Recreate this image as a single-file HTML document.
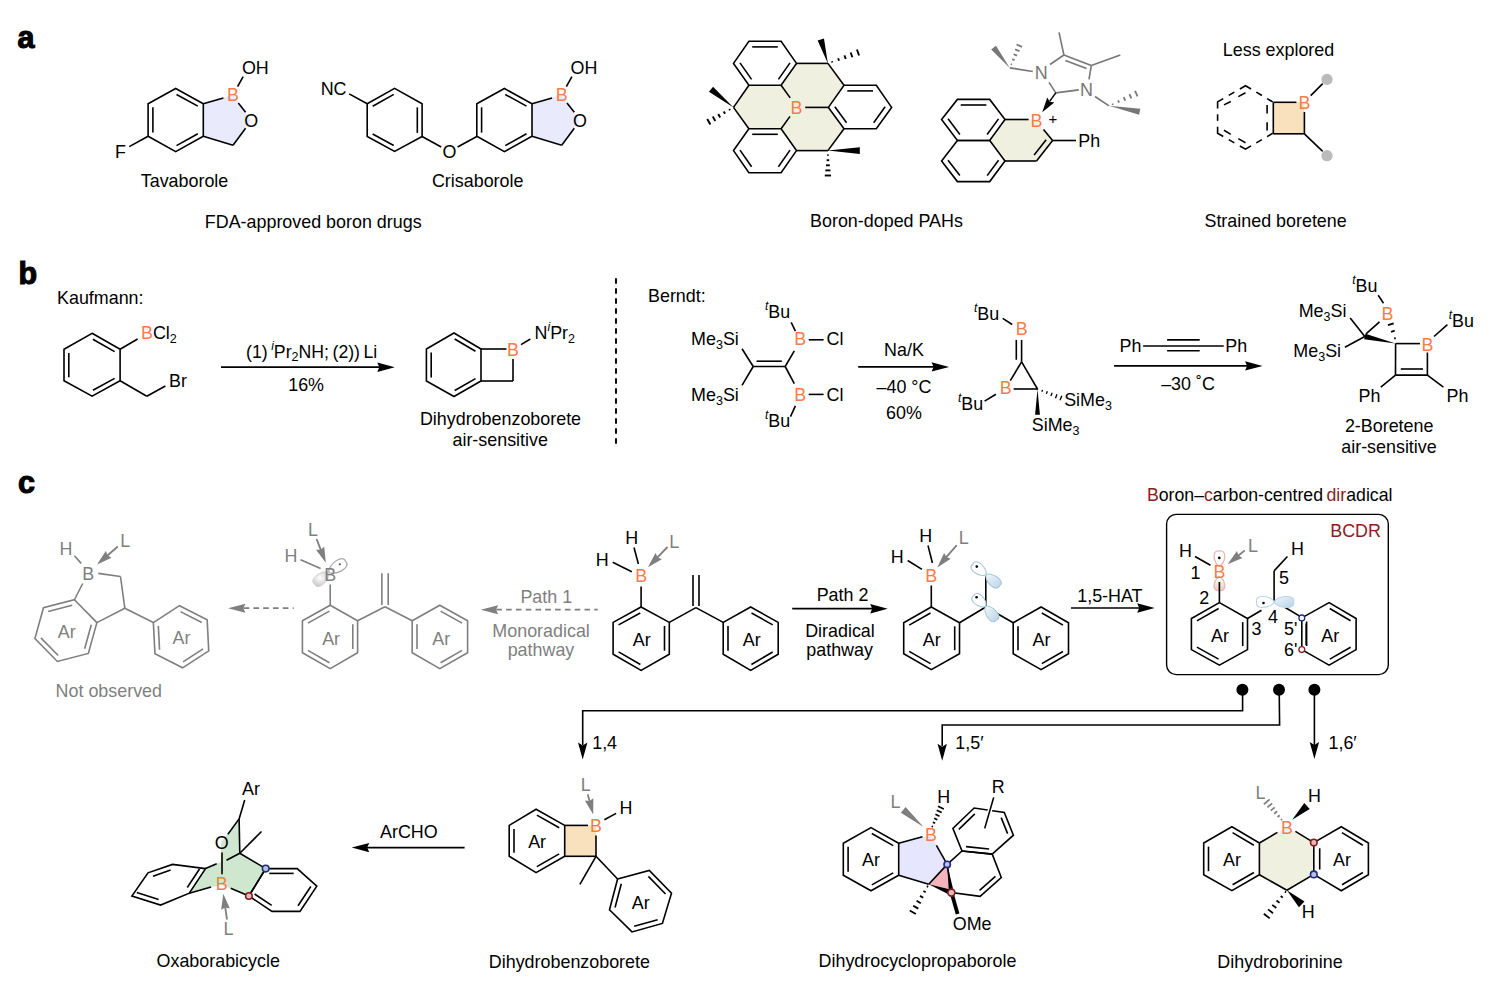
<!DOCTYPE html>
<html><head><meta charset="utf-8"><style>
html,body{margin:0;padding:0;background:#fff;}
svg{display:block;}
text{font-family:"Liberation Sans", sans-serif;}
</style></head><body>
<svg width="1499" height="992" viewBox="0 0 1499 992">
<defs>
<radialGradient id="gl" cx="0.45" cy="0.4" r="0.65"><stop offset="0" stop-color="#ffffff"/><stop offset="1" stop-color="#c4c4c4"/></radialGradient>
<linearGradient id="bl" x1="0" y1="0" x2="1" y2="1"><stop offset="0" stop-color="#f3f8fb"/><stop offset="1" stop-color="#b6d2e4"/></linearGradient>
<linearGradient id="pk1" x1="0" y1="1" x2="0" y2="0"><stop offset="0" stop-color="#ffffff"/><stop offset="1" stop-color="#ffffff"/></linearGradient>
<linearGradient id="pk2" x1="0" y1="0" x2="0" y2="1"><stop offset="0" stop-color="#ffffff"/><stop offset="1" stop-color="#f1c9c6"/></linearGradient>
</defs>
<rect width="1499" height="992" fill="#fff"/>
<text x="17.5" y="48" font-size="30.5" fill="#000" text-anchor="start" font-weight="bold" stroke="#000" stroke-width="1.1">a</text>
<polygon points="203.3,103.7 233,94.6 251,120.7 233,145.2 203.3,136.2" fill="#eaeafd" stroke="none" stroke-linejoin="miter" />
<line x1="203.3" y1="103.7" x2="223.4" y2="97.9" stroke="#000" stroke-width="1.6" stroke-linecap="butt" />
<line x1="238.3" y1="102.9" x2="245.6" y2="112.2" stroke="#000" stroke-width="1.6" stroke-linecap="butt" />
<line x1="245.6" y1="128.3" x2="233" y2="145.2" stroke="#000" stroke-width="1.6" stroke-linecap="butt" />
<line x1="233" y1="145.2" x2="203.3" y2="136.2" stroke="#000" stroke-width="1.6" stroke-linecap="butt" />
<line x1="237.6" y1="86.6" x2="243.2" y2="76.6" stroke="#000" stroke-width="1.6" stroke-linecap="butt" />
<text x="233" y="100.8" font-size="17.9" fill="#fa7c4a" text-anchor="middle" >B</text>
<text x="251.3" y="126.9" font-size="17.9" fill="#000" text-anchor="middle" >O</text>
<text x="255.3" y="73.6" font-size="17.9" fill="#000" text-anchor="middle" >OH</text>
<polygon points="175.7,88.5 203.3,103.7 203.3,136.2 175.7,151.6 148.1,136.2 148.1,103.7" fill="none" stroke="#000" stroke-width="1.6" stroke-linejoin="miter" />
<line x1="176.54" y1="94.44" x2="197.83" y2="106.17" stroke="#000" stroke-width="1.6" stroke-linecap="butt" />
<line x1="197.82" y1="133.76" x2="176.5" y2="145.65" stroke="#000" stroke-width="1.6" stroke-linecap="butt" />
<line x1="152.9" y1="132.6" x2="152.9" y2="107.3" stroke="#000" stroke-width="1.6" stroke-linecap="butt" />
<line x1="148.1" y1="136.2" x2="129.3" y2="146.6" stroke="#000" stroke-width="1.6" stroke-linecap="butt" />
<text x="120.4" y="158.2" font-size="17.9" fill="#000" text-anchor="middle" >F</text>
<text x="184.5" y="186.8" font-size="17.9" fill="#000" text-anchor="middle" >Tavaborole</text>
<polygon points="394.6,88.4 422.1,103.8 422.1,136.5 394.6,151.4 367.2,136.5 367.2,103.8" fill="none" stroke="#000" stroke-width="1.6" stroke-linejoin="miter" />
<line x1="372.69" y1="106.22" x2="393.81" y2="94.35" stroke="#000" stroke-width="1.6" stroke-linecap="butt" />
<line x1="417.3" y1="107.4" x2="417.3" y2="132.9" stroke="#000" stroke-width="1.6" stroke-linecap="butt" />
<line x1="393.73" y1="145.46" x2="372.66" y2="134" stroke="#000" stroke-width="1.6" stroke-linecap="butt" />
<line x1="367.2" y1="103.8" x2="349.2" y2="93.9" stroke="#000" stroke-width="1.6" stroke-linecap="butt" />
<text x="333.6" y="94.5" font-size="17.9" fill="#000" text-anchor="middle" >NC</text>
<line x1="422.1" y1="136.5" x2="441.2" y2="147" stroke="#000" stroke-width="1.6" stroke-linecap="butt" />
<text x="449.4" y="157.7" font-size="17.9" fill="#000" text-anchor="middle" >O</text>
<line x1="457.6" y1="147" x2="476.8" y2="136.5" stroke="#000" stroke-width="1.6" stroke-linecap="butt" />
<polygon points="532,103.7 561.7,94.6 579.7,120.7 561.7,145.2 532,136.2" fill="#eaeafd" stroke="none" stroke-linejoin="miter" />
<line x1="532" y1="103.7" x2="552.1" y2="97.9" stroke="#000" stroke-width="1.6" stroke-linecap="butt" />
<line x1="567" y1="102.9" x2="574.3" y2="112.2" stroke="#000" stroke-width="1.6" stroke-linecap="butt" />
<line x1="574.3" y1="128.3" x2="561.7" y2="145.2" stroke="#000" stroke-width="1.6" stroke-linecap="butt" />
<line x1="561.7" y1="145.2" x2="532" y2="136.2" stroke="#000" stroke-width="1.6" stroke-linecap="butt" />
<line x1="566.3" y1="86.6" x2="571.9" y2="76.6" stroke="#000" stroke-width="1.6" stroke-linecap="butt" />
<text x="561.7" y="100.8" font-size="17.9" fill="#fa7c4a" text-anchor="middle" >B</text>
<text x="580" y="126.9" font-size="17.9" fill="#000" text-anchor="middle" >O</text>
<text x="584" y="73.6" font-size="17.9" fill="#000" text-anchor="middle" >OH</text>
<polygon points="504.4,88.5 532,103.7 532,136.2 504.4,151.6 476.8,136.2 476.8,103.7" fill="none" stroke="#000" stroke-width="1.6" stroke-linejoin="miter" />
<line x1="505.24" y1="94.44" x2="526.53" y2="106.17" stroke="#000" stroke-width="1.6" stroke-linecap="butt" />
<line x1="526.52" y1="133.76" x2="505.2" y2="145.65" stroke="#000" stroke-width="1.6" stroke-linecap="butt" />
<line x1="481.6" y1="132.6" x2="481.6" y2="107.3" stroke="#000" stroke-width="1.6" stroke-linecap="butt" />
<text x="477.7" y="186.7" font-size="17.9" fill="#000" text-anchor="middle" >Crisaborole</text>
<text x="313.2" y="228.1" font-size="17.9" fill="#000" text-anchor="middle" >FDA-approved boron drugs</text>
<polygon points="781.1,85.3 796.5,63.4 827.9,63.4 844,85.3 828.4,107.4 844,128.7 827.9,150.6 796.5,150.6 781.1,128.7 748.9,128.7 733.5,107.4 748.9,85.3" fill="#f0f0e0" stroke="none" stroke-linejoin="miter" />
<polygon points="748.9,41.3 781.1,41.3 796.5,63.4 781.1,85.3 748.9,85.3 733.5,63.4" fill="none" stroke="#000" stroke-width="1.6" stroke-linejoin="miter" />
<line x1="752.2" y1="46.9" x2="777.8" y2="46.9" stroke="#000" stroke-width="1.6" stroke-linecap="butt" />
<line x1="790.02" y1="62.88" x2="778.42" y2="79.38" stroke="#000" stroke-width="1.6" stroke-linecap="butt" />
<line x1="751.58" y1="79.38" x2="739.98" y2="62.88" stroke="#000" stroke-width="1.6" stroke-linecap="butt" />
<polygon points="844,85.3 876.3,85.3 891.6,107.4 876.3,128.7 844,128.7 828.4,107.4" fill="none" stroke="#000" stroke-width="1.6" stroke-linejoin="miter" />
<line x1="847.3" y1="90.9" x2="873" y2="90.9" stroke="#000" stroke-width="1.6" stroke-linecap="butt" />
<line x1="885.13" y1="106.81" x2="873.68" y2="122.75" stroke="#000" stroke-width="1.6" stroke-linecap="butt" />
<line x1="846.57" y1="122.73" x2="834.87" y2="106.75" stroke="#000" stroke-width="1.6" stroke-linecap="butt" />
<polygon points="748.9,128.7 781.1,128.7 796.5,150.6 781.1,172.7 748.9,172.7 733.5,150.6" fill="none" stroke="#000" stroke-width="1.6" stroke-linejoin="miter" />
<line x1="752.2" y1="134.3" x2="777.8" y2="134.3" stroke="#000" stroke-width="1.6" stroke-linecap="butt" />
<line x1="790.02" y1="150.11" x2="778.39" y2="166.79" stroke="#000" stroke-width="1.6" stroke-linecap="butt" />
<line x1="751.61" y1="166.79" x2="739.98" y2="150.11" stroke="#000" stroke-width="1.6" stroke-linecap="butt" />
<line x1="796.5" y1="63.4" x2="827.9" y2="63.4" stroke="#000" stroke-width="1.6" stroke-linecap="butt" />
<line x1="827.9" y1="63.4" x2="844" y2="85.3" stroke="#000" stroke-width="1.6" stroke-linecap="butt" />
<line x1="748.9" y1="85.3" x2="733.5" y2="107.4" stroke="#000" stroke-width="1.6" stroke-linecap="butt" />
<line x1="733.5" y1="107.4" x2="748.9" y2="128.7" stroke="#000" stroke-width="1.6" stroke-linecap="butt" />
<line x1="796.5" y1="150.6" x2="827.9" y2="150.6" stroke="#000" stroke-width="1.6" stroke-linecap="butt" />
<line x1="827.9" y1="150.6" x2="844" y2="128.7" stroke="#000" stroke-width="1.6" stroke-linecap="butt" />
<line x1="781.1" y1="85.3" x2="790.2" y2="97.9" stroke="#000" stroke-width="1.6" stroke-linecap="butt" />
<line x1="781.1" y1="128.7" x2="790" y2="116.4" stroke="#000" stroke-width="1.6" stroke-linecap="butt" />
<line x1="805.2" y1="107.4" x2="828.4" y2="107.4" stroke="#000" stroke-width="1.6" stroke-linecap="butt" />
<text x="796.5" y="113.7" font-size="17.9" fill="#fa7c4a" text-anchor="middle" >B</text>
<polygon points="827.9,63.4 823.96,38.56 817.64,40.44" fill="#000" stroke="none" stroke-linejoin="miter" />
<line x1="832.37" y1="62.53" x2="831.89" y2="61.21" stroke="#000" stroke-width="1.9" stroke-linecap="butt" />
<line x1="839.05" y1="60.76" x2="838.15" y2="58.29" stroke="#000" stroke-width="1.9" stroke-linecap="butt" />
<line x1="845.72" y1="58.99" x2="844.41" y2="55.37" stroke="#000" stroke-width="1.9" stroke-linecap="butt" />
<line x1="852.4" y1="57.23" x2="850.67" y2="52.46" stroke="#000" stroke-width="1.9" stroke-linecap="butt" />
<line x1="859.07" y1="55.46" x2="856.93" y2="49.54" stroke="#000" stroke-width="1.9" stroke-linecap="butt" />
<polygon points="733.5,107.4 713.07,86.73 708.93,91.87" fill="#000" stroke="none" stroke-linejoin="miter" />
<line x1="729.26" y1="109.06" x2="729.96" y2="110.27" stroke="#000" stroke-width="1.9" stroke-linecap="butt" />
<line x1="723.75" y1="111.57" x2="725.07" y2="113.83" stroke="#000" stroke-width="1.9" stroke-linecap="butt" />
<line x1="718.24" y1="114.07" x2="720.18" y2="117.4" stroke="#000" stroke-width="1.9" stroke-linecap="butt" />
<line x1="712.73" y1="116.57" x2="715.28" y2="120.96" stroke="#000" stroke-width="1.9" stroke-linecap="butt" />
<line x1="707.21" y1="119.08" x2="710.39" y2="124.52" stroke="#000" stroke-width="1.9" stroke-linecap="butt" />
<polygon points="827.9,150.6 859.8,153.9 859.8,147.3" fill="#000" stroke="none" stroke-linejoin="miter" />
<line x1="827.2" y1="155.1" x2="828.6" y2="155.1" stroke="#000" stroke-width="1.9" stroke-linecap="butt" />
<line x1="826.59" y1="160.2" x2="829.21" y2="160.2" stroke="#000" stroke-width="1.9" stroke-linecap="butt" />
<line x1="825.98" y1="165.3" x2="829.82" y2="165.3" stroke="#000" stroke-width="1.9" stroke-linecap="butt" />
<line x1="825.36" y1="170.4" x2="830.44" y2="170.4" stroke="#000" stroke-width="1.9" stroke-linecap="butt" />
<line x1="824.75" y1="175.5" x2="831.05" y2="175.5" stroke="#000" stroke-width="1.9" stroke-linecap="butt" />
<text x="886.5" y="226.5" font-size="17.9" fill="#000" text-anchor="middle" >Boron-doped PAHs</text>
<polygon points="1005,119.5 1032,119.5 1036.5,121.1 1052.6,140.5 1036.5,161 1005,161 989.7,140.5" fill="#f0f0e0" stroke="none" stroke-linejoin="miter" />
<polygon points="957.4,99.4 989.7,99.4 1005,119.5 989.7,140.5 957.4,140.5 941.6,119.5" fill="none" stroke="#000" stroke-width="1.6" stroke-linejoin="miter" />
<line x1="960.7" y1="105" x2="986.4" y2="105" stroke="#000" stroke-width="1.6" stroke-linecap="butt" />
<line x1="998.53" y1="118.87" x2="987.12" y2="134.54" stroke="#000" stroke-width="1.6" stroke-linecap="butt" />
<line x1="959.89" y1="134.5" x2="948.06" y2="118.77" stroke="#000" stroke-width="1.6" stroke-linecap="butt" />
<polygon points="989.7,140.5 1005,161 989.7,181.6 957.4,181.6 941.6,161 957.4,140.5" fill="none" stroke="#000" stroke-width="1.6" stroke-linejoin="miter" />
<line x1="998.54" y1="160.31" x2="987.17" y2="175.61" stroke="#000" stroke-width="1.6" stroke-linecap="butt" />
<line x1="959.84" y1="175.57" x2="948.05" y2="160.21" stroke="#000" stroke-width="1.6" stroke-linecap="butt" />
<line x1="1005" y1="119.5" x2="1028.6" y2="119.5" stroke="#000" stroke-width="1.6" stroke-linecap="butt" />
<line x1="1043.5" y1="129.5" x2="1052.6" y2="140.5" stroke="#000" stroke-width="1.6" stroke-linecap="butt" />
<line x1="1052.6" y1="140.5" x2="1036.5" y2="161" stroke="#000" stroke-width="1.6" stroke-linecap="butt" />
<line x1="1046.16" y1="139.64" x2="1034.13" y2="154.95" stroke="#000" stroke-width="1.6" stroke-linecap="butt" />
<line x1="1036.5" y1="161" x2="1005" y2="161" stroke="#000" stroke-width="1.6" stroke-linecap="butt" />
<line x1="1052.6" y1="140.5" x2="1076" y2="140.5" stroke="#000" stroke-width="1.6" stroke-linecap="butt" />
<text x="1036.5" y="127.2" font-size="17.9" fill="#fa7c4a" text-anchor="middle" >B</text>
<text x="1052.9" y="123.5" font-size="15" fill="#000" text-anchor="middle" >+</text>
<text x="1089.2" y="147" font-size="17.9" fill="#000" text-anchor="middle" >Ph</text>
<line x1="1055.8" y1="92.9" x2="1049" y2="82.4" stroke="#777777" stroke-width="1.6" stroke-linecap="butt" />
<line x1="1055.8" y1="92.9" x2="1078.8" y2="89.9" stroke="#777777" stroke-width="1.6" stroke-linecap="butt" />
<line x1="1050" y1="64.5" x2="1063.9" y2="55" stroke="#777777" stroke-width="1.6" stroke-linecap="butt" />
<line x1="1063.9" y1="55" x2="1091.3" y2="65.5" stroke="#777777" stroke-width="1.6" stroke-linecap="butt" />
<line x1="1065.34" y1="60.48" x2="1086.57" y2="68.61" stroke="#777777" stroke-width="1.6" stroke-linecap="butt" />
<line x1="1091.3" y1="65.5" x2="1089" y2="79.3" stroke="#777777" stroke-width="1.6" stroke-linecap="butt" />
<line x1="1063.9" y1="55" x2="1059" y2="32.4" stroke="#777777" stroke-width="1.6" stroke-linecap="butt" />
<line x1="1091.3" y1="65.5" x2="1120.3" y2="55" stroke="#777777" stroke-width="1.6" stroke-linecap="butt" />
<text x="1041.3" y="79.2" font-size="17.9" fill="#777777" text-anchor="middle" >N</text>
<text x="1086.5" y="95.9" font-size="17.9" fill="#777777" text-anchor="middle" >N</text>
<line x1="1032.8" y1="71.5" x2="1009.8" y2="67.9" stroke="#777777" stroke-width="1.6" stroke-linecap="butt" />
<polygon points="1009.8,67.9 996.02,45.67 991.18,49.53" fill="#777777" stroke="none" stroke-linejoin="miter" />
<line x1="1011.97" y1="64.48" x2="1010.78" y2="63.97" stroke="#777777" stroke-width="1.8" stroke-linecap="butt" />
<line x1="1014.49" y1="60.08" x2="1012.22" y2="59.11" stroke="#777777" stroke-width="1.8" stroke-linecap="butt" />
<line x1="1017.01" y1="55.68" x2="1013.66" y2="54.24" stroke="#777777" stroke-width="1.8" stroke-linecap="butt" />
<line x1="1019.54" y1="51.28" x2="1015.1" y2="49.38" stroke="#777777" stroke-width="1.8" stroke-linecap="butt" />
<line x1="1022.06" y1="46.88" x2="1016.54" y2="44.52" stroke="#777777" stroke-width="1.8" stroke-linecap="butt" />
<line x1="1095" y1="96.5" x2="1109" y2="105.8" stroke="#777777" stroke-width="1.6" stroke-linecap="butt" />
<polygon points="1109,105.8 1139.11,114.74 1140.29,108.66" fill="#777777" stroke="none" stroke-linejoin="miter" />
<line x1="1112.92" y1="104.76" x2="1112.39" y2="103.57" stroke="#777777" stroke-width="1.8" stroke-linecap="butt" />
<line x1="1119.07" y1="102.66" x2="1118.06" y2="100.4" stroke="#777777" stroke-width="1.8" stroke-linecap="butt" />
<line x1="1125.22" y1="100.55" x2="1123.73" y2="97.22" stroke="#777777" stroke-width="1.8" stroke-linecap="butt" />
<line x1="1131.37" y1="98.44" x2="1129.4" y2="94.04" stroke="#777777" stroke-width="1.8" stroke-linecap="butt" />
<line x1="1137.52" y1="96.34" x2="1135.08" y2="90.86" stroke="#777777" stroke-width="1.8" stroke-linecap="butt" />
<line x1="1055.8" y1="92.9" x2="1049.6" y2="101.4" stroke="#000" stroke-width="1.5" stroke-linecap="butt" />
<polygon points="1042.2,112.3 1047.29,97.55 1049.66,101.66 1054.33,102.49" fill="#000" stroke="none" stroke-linejoin="miter" />
<text x="1278.5" y="56.1" font-size="17.9" fill="#000" text-anchor="middle" >Less explored</text>
<polygon points="1273.3,102.3 1304.4,102.3 1304.4,133.8 1273.3,133.8" fill="#f9e1be" stroke="none" stroke-linejoin="miter" />
<line x1="1273.3" y1="102.3" x2="1296.4" y2="102.3" stroke="#000" stroke-width="1.6" stroke-linecap="butt" />
<line x1="1304.4" y1="112" x2="1304.4" y2="133.8" stroke="#000" stroke-width="1.6" stroke-linecap="butt" />
<line x1="1304.4" y1="133.8" x2="1273.3" y2="133.8" stroke="#000" stroke-width="1.6" stroke-linecap="butt" />
<line x1="1273.3" y1="102.3" x2="1273.3" y2="133.8" stroke="#000" stroke-width="1.6" stroke-linecap="butt" />
<text x="1304.4" y="108.9" font-size="17.9" fill="#fa7c4a" text-anchor="middle" >B</text>
<line x1="1272.7" y1="101.9" x2="1267.12" y2="98.57" stroke="#000" stroke-width="1.6" stroke-linecap="butt" />
<line x1="1272.7" y1="133.3" x2="1267.09" y2="136.58" stroke="#000" stroke-width="1.6" stroke-linecap="butt" />
<polyline points="1251.08,89.03 1245.5,85.7 1239.88,88.96" fill="none" stroke="#000" stroke-width="1.6" stroke-linejoin="miter" />
<polyline points="1223.22,98.64 1217.6,101.9 1217.6,108.4" fill="none" stroke="#000" stroke-width="1.6" stroke-linejoin="miter" />
<polyline points="1217.6,126.8 1217.6,133.3 1223.25,136.52" fill="none" stroke="#000" stroke-width="1.6" stroke-linejoin="miter" />
<polyline points="1239.85,145.98 1245.5,149.2 1251.11,145.92" fill="none" stroke="#000" stroke-width="1.6" stroke-linejoin="miter" />
<line x1="1261.89" y1="95.46" x2="1256.31" y2="92.14" stroke="#000" stroke-width="1.6" stroke-linecap="butt" />
<line x1="1234.36" y1="92.17" x2="1228.74" y2="95.43" stroke="#000" stroke-width="1.6" stroke-linecap="butt" />
<line x1="1217.6" y1="114.35" x2="1217.6" y2="120.85" stroke="#000" stroke-width="1.6" stroke-linecap="butt" />
<line x1="1228.73" y1="139.64" x2="1234.37" y2="142.86" stroke="#000" stroke-width="1.6" stroke-linecap="butt" />
<line x1="1256.29" y1="142.89" x2="1261.91" y2="139.61" stroke="#000" stroke-width="1.6" stroke-linecap="butt" />
<line x1="1224" y1="104.9" x2="1230.8" y2="101.5" stroke="#000" stroke-width="1.6" stroke-linecap="butt" />
<line x1="1238.3" y1="96.6" x2="1245.5" y2="92.8" stroke="#000" stroke-width="1.6" stroke-linecap="butt" />
<line x1="1267.1" y1="104.9" x2="1267.1" y2="113.6" stroke="#000" stroke-width="1.6" stroke-linecap="butt" />
<line x1="1267.1" y1="122.3" x2="1267.1" y2="130.6" stroke="#000" stroke-width="1.6" stroke-linecap="butt" />
<line x1="1224" y1="130.3" x2="1230.8" y2="134.4" stroke="#000" stroke-width="1.6" stroke-linecap="butt" />
<line x1="1238.3" y1="138.6" x2="1245.5" y2="142.7" stroke="#000" stroke-width="1.6" stroke-linecap="butt" />
<line x1="1310.7" y1="95.6" x2="1322.7" y2="83.6" stroke="#000" stroke-width="1.6" stroke-linecap="butt" />
<line x1="1304.4" y1="133.8" x2="1322.7" y2="151.4" stroke="#000" stroke-width="1.6" stroke-linecap="butt" />
<circle cx="1327" cy="79.4" r="5.6" fill="#bbbbbb" />
<circle cx="1327" cy="155.7" r="5.6" fill="#bbbbbb" />
<text x="1275.6" y="226.5" font-size="17.9" fill="#000" text-anchor="middle" >Strained boretene</text>
<text x="18.5" y="284.2" font-size="30.5" fill="#000" text-anchor="start" font-weight="bold" stroke="#000" stroke-width="1.1">b</text>
<text x="57" y="304.2" font-size="17.9" fill="#000" text-anchor="start" >Kaufmann:</text>
<polygon points="92.1,333.3 120.1,349.3 120.1,380.8 92.1,396.2 64,380.8 64,349.3" fill="none" stroke="#000" stroke-width="1.6" stroke-linejoin="miter" />
<line x1="92.84" y1="339.25" x2="114.59" y2="351.68" stroke="#000" stroke-width="1.6" stroke-linecap="butt" />
<line x1="114.63" y1="378.33" x2="92.94" y2="390.26" stroke="#000" stroke-width="1.6" stroke-linecap="butt" />
<line x1="68.8" y1="377.2" x2="68.8" y2="352.9" stroke="#000" stroke-width="1.6" stroke-linecap="butt" />
<line x1="120.1" y1="349.3" x2="137.6" y2="339" stroke="#000" stroke-width="1.6" stroke-linecap="butt" />
<text x="141" y="339.4" font-size="17.9" fill="#000" text-anchor="start" ><tspan fill="#fa7c4a">B</tspan>Cl<tspan font-size="12.5" baseline-shift="-4">2</tspan></text>
<line x1="120.1" y1="380.8" x2="146.8" y2="396.2" stroke="#000" stroke-width="1.6" stroke-linecap="butt" />
<line x1="146.8" y1="396.2" x2="165.4" y2="386" stroke="#000" stroke-width="1.6" stroke-linecap="butt" />
<text x="169" y="386.6" font-size="17.9" fill="#000" text-anchor="start" >Br</text>
<line x1="221" y1="367.1" x2="379.8" y2="367.19" stroke="#000" stroke-width="1.7" stroke-linecap="butt" />
<polygon points="394.8,367.2 377.3,371.89 379.3,367.19 377.3,362.49" fill="#000" stroke="none" stroke-linejoin="miter" />
<text x="246" y="357.6" font-size="17.7" fill="#000" text-anchor="start" >(1) <tspan font-size="12" baseline-shift="8" font-style="italic">i</tspan>Pr<tspan font-size="12.5" baseline-shift="-3">2</tspan>NH; (2)) Li</text>
<text x="306.1" y="391.4" font-size="17.9" fill="#000" text-anchor="middle" >16%</text>
<polygon points="454,333 481,349 481,381 454,396.5 426.4,381 426.4,349" fill="none" stroke="#000" stroke-width="1.6" stroke-linejoin="miter" />
<line x1="454.65" y1="338.96" x2="475.46" y2="351.29" stroke="#000" stroke-width="1.6" stroke-linecap="butt" />
<line x1="475.49" y1="378.63" x2="454.73" y2="390.54" stroke="#000" stroke-width="1.6" stroke-linecap="butt" />
<line x1="431.2" y1="377.4" x2="431.2" y2="352.6" stroke="#000" stroke-width="1.6" stroke-linecap="butt" />
<line x1="481" y1="349" x2="506.5" y2="349" stroke="#000" stroke-width="1.6" stroke-linecap="butt" />
<line x1="513" y1="359" x2="513" y2="381" stroke="#000" stroke-width="1.6" stroke-linecap="butt" />
<line x1="513" y1="381" x2="481" y2="381" stroke="#000" stroke-width="1.6" stroke-linecap="butt" />
<text x="513" y="356.3" font-size="17.9" fill="#fa7c4a" text-anchor="middle" >B</text>
<line x1="521" y1="344.6" x2="530.4" y2="339" stroke="#000" stroke-width="1.6" stroke-linecap="butt" />
<text x="534.6" y="339.4" font-size="17.9" fill="#000" text-anchor="start" >N<tspan font-size="12" baseline-shift="8" font-style="italic">i</tspan>Pr<tspan font-size="12.5" baseline-shift="-4">2</tspan></text>
<text x="500.5" y="425.1" font-size="17.9" fill="#000" text-anchor="middle" >Dihydrobenzoborete</text>
<text x="500.2" y="446" font-size="17.9" fill="#000" text-anchor="middle" >air-sensitive</text>
<line x1="616" y1="278.2" x2="616" y2="444" stroke="#000" stroke-width="1.9" stroke-linecap="butt" stroke-dasharray="5.6 4.4"/>
<text x="648" y="302.4" font-size="17.9" fill="#000" text-anchor="start" >Berndt:</text>
<line x1="753.2" y1="366.5" x2="785.2" y2="366.5" stroke="#000" stroke-width="1.6" stroke-linecap="butt" />
<line x1="756.6" y1="361.2" x2="781.8" y2="361.2" stroke="#000" stroke-width="1.6" stroke-linecap="butt" />
<line x1="753.2" y1="366.5" x2="742" y2="348.7" stroke="#000" stroke-width="1.6" stroke-linecap="butt" />
<line x1="753.2" y1="366.5" x2="742" y2="385.3" stroke="#000" stroke-width="1.6" stroke-linecap="butt" />
<line x1="785.2" y1="366.5" x2="794.3" y2="350.8" stroke="#000" stroke-width="1.6" stroke-linecap="butt" />
<line x1="785.2" y1="366.5" x2="794.3" y2="383.6" stroke="#000" stroke-width="1.6" stroke-linecap="butt" />
<text x="738.8" y="345.1" font-size="17.9" fill="#000" text-anchor="end" >Me<tspan font-size="12.5" baseline-shift="-4">3</tspan>Si</text>
<text x="738.8" y="400.6" font-size="17.9" fill="#000" text-anchor="end" >Me<tspan font-size="12.5" baseline-shift="-4">3</tspan>Si</text>
<text x="800.1" y="345.1" font-size="17.9" fill="#fa7c4a" text-anchor="middle" >B</text>
<text x="800.1" y="400.6" font-size="17.9" fill="#fa7c4a" text-anchor="middle" >B</text>
<line x1="808.7" y1="339.8" x2="823.6" y2="339.8" stroke="#000" stroke-width="1.6" stroke-linecap="butt" />
<line x1="808.7" y1="394.4" x2="823.6" y2="394.4" stroke="#000" stroke-width="1.6" stroke-linecap="butt" />
<text x="826.5" y="345.1" font-size="17.9" fill="#000" text-anchor="start" >Cl</text>
<text x="826.5" y="400.6" font-size="17.9" fill="#000" text-anchor="start" >Cl</text>
<line x1="795.4" y1="331.2" x2="791.2" y2="322.3" stroke="#000" stroke-width="1.6" stroke-linecap="butt" />
<line x1="795.4" y1="405.8" x2="790.5" y2="416.6" stroke="#000" stroke-width="1.6" stroke-linecap="butt" />
<text x="777.5" y="318.4" font-size="17.9" fill="#000" text-anchor="middle" ><tspan font-size="12" baseline-shift="8" font-style="italic">t</tspan>Bu</text>
<text x="777.5" y="427.3" font-size="17.9" fill="#000" text-anchor="middle" ><tspan font-size="12" baseline-shift="8" font-style="italic">t</tspan>Bu</text>
<line x1="858.2" y1="366.9" x2="934.1" y2="366.9" stroke="#000" stroke-width="1.7" stroke-linecap="butt" />
<polygon points="949.1,366.9 931.6,371.6 933.6,366.9 931.6,362.2" fill="#000" stroke="none" stroke-linejoin="miter" />
<text x="904" y="355.8" font-size="17.9" fill="#000" text-anchor="middle" >Na/K</text>
<text x="904" y="393.2" font-size="17.9" fill="#000" text-anchor="middle" >–40 °C</text>
<text x="904" y="418.8" font-size="17.9" fill="#000" text-anchor="middle" >60%</text>
<text x="1021.6" y="335.3" font-size="17.9" fill="#fa7c4a" text-anchor="middle" >B</text>
<text x="986.5" y="320.2" font-size="17.9" fill="#000" text-anchor="middle" ><tspan font-size="12" baseline-shift="8" font-style="italic">t</tspan>Bu</text>
<line x1="1002.7" y1="318.4" x2="1012.2" y2="324.5" stroke="#000" stroke-width="1.6" stroke-linecap="butt" />
<line x1="1016.3" y1="339.9" x2="1016.3" y2="359.8" stroke="#000" stroke-width="1.6" stroke-linecap="butt" />
<line x1="1021.6" y1="339.9" x2="1021.6" y2="361.8" stroke="#000" stroke-width="1.6" stroke-linecap="butt" />
<line x1="1021.6" y1="361.8" x2="1010.3" y2="380.7" stroke="#000" stroke-width="1.6" stroke-linecap="butt" />
<line x1="1021.6" y1="361.8" x2="1037.5" y2="389" stroke="#000" stroke-width="1.6" stroke-linecap="butt" />
<line x1="1013.6" y1="389" x2="1037.5" y2="389" stroke="#000" stroke-width="1.6" stroke-linecap="butt" />
<text x="1005.7" y="394.3" font-size="17.9" fill="#fa7c4a" text-anchor="middle" >B</text>
<line x1="984.6" y1="401.1" x2="995.9" y2="394.3" stroke="#000" stroke-width="1.6" stroke-linecap="butt" />
<text x="970.5" y="410.2" font-size="17.9" fill="#000" text-anchor="middle" ><tspan font-size="12" baseline-shift="8" font-style="italic">t</tspan>Bu</text>
<line x1="1037.28" y1="389.56" x2="1037.72" y2="388.44" stroke="#000" stroke-width="1.3" stroke-linecap="butt" />
<line x1="1041.83" y1="391.71" x2="1042.53" y2="389.89" stroke="#000" stroke-width="1.3" stroke-linecap="butt" />
<line x1="1046.37" y1="393.87" x2="1047.35" y2="391.33" stroke="#000" stroke-width="1.3" stroke-linecap="butt" />
<line x1="1050.92" y1="396.02" x2="1052.16" y2="392.78" stroke="#000" stroke-width="1.3" stroke-linecap="butt" />
<line x1="1055.46" y1="398.18" x2="1056.98" y2="394.22" stroke="#000" stroke-width="1.3" stroke-linecap="butt" />
<line x1="1060" y1="400.33" x2="1061.8" y2="395.67" stroke="#000" stroke-width="1.3" stroke-linecap="butt" />
<text x="1064.2" y="405.6" font-size="17.9" fill="#000" text-anchor="start" >SiMe<tspan font-size="12.5" baseline-shift="-4">3</tspan></text>
<polygon points="1037.5,389 1035.1,414.7 1039.9,414.7" fill="#000" stroke="none" stroke-linejoin="miter" />
<text x="1031.8" y="431.3" font-size="17.9" fill="#000" text-anchor="start" >SiMe<tspan font-size="12.5" baseline-shift="-4">3</tspan></text>
<text x="1130.5" y="351.7" font-size="17.9" fill="#000" text-anchor="middle" >Ph</text>
<line x1="1143.1" y1="346" x2="1223.7" y2="346" stroke="#000" stroke-width="1.6" stroke-linecap="butt" />
<line x1="1167.1" y1="339.9" x2="1199.7" y2="339.9" stroke="#000" stroke-width="1.6" stroke-linecap="butt" />
<line x1="1167.1" y1="350.8" x2="1199.7" y2="350.8" stroke="#000" stroke-width="1.6" stroke-linecap="butt" />
<text x="1236.3" y="351.7" font-size="17.9" fill="#000" text-anchor="middle" >Ph</text>
<line x1="1114.1" y1="365.9" x2="1247.6" y2="365.9" stroke="#000" stroke-width="1.7" stroke-linecap="butt" />
<polygon points="1262.6,365.9 1245.1,370.6 1247.1,365.9 1245.1,361.2" fill="#000" stroke="none" stroke-linejoin="miter" />
<text x="1188" y="389.6" font-size="17.9" fill="#000" text-anchor="middle" >–30 ˚C</text>
<line x1="1395.6" y1="343.6" x2="1420" y2="343.6" stroke="#000" stroke-width="1.6" stroke-linecap="butt" />
<line x1="1427.4" y1="352.5" x2="1427.4" y2="375.1" stroke="#000" stroke-width="1.6" stroke-linecap="butt" />
<line x1="1427.4" y1="375.1" x2="1395.5" y2="375.1" stroke="#000" stroke-width="1.6" stroke-linecap="butt" />
<line x1="1395.5" y1="375.1" x2="1395.6" y2="343.6" stroke="#000" stroke-width="1.6" stroke-linecap="butt" />
<line x1="1400.8" y1="369" x2="1423" y2="369" stroke="#000" stroke-width="1.6" stroke-linecap="butt" />
<text x="1427.4" y="350.6" font-size="17.9" fill="#fa7c4a" text-anchor="middle" >B</text>
<line x1="1395.5" y1="375.1" x2="1380.8" y2="387.1" stroke="#000" stroke-width="1.6" stroke-linecap="butt" />
<line x1="1427.4" y1="375.1" x2="1443.4" y2="387.1" stroke="#000" stroke-width="1.6" stroke-linecap="butt" />
<text x="1369.5" y="401.8" font-size="17.9" fill="#000" text-anchor="middle" >Ph</text>
<text x="1457.5" y="401.8" font-size="17.9" fill="#000" text-anchor="middle" >Ph</text>
<line x1="1434" y1="336.5" x2="1447.4" y2="324.6" stroke="#000" stroke-width="1.6" stroke-linecap="butt" />
<text x="1461.3" y="327.2" font-size="17.9" fill="#000" text-anchor="middle" ><tspan font-size="12" baseline-shift="8" font-style="italic">t</tspan>Bu</text>
<polygon points="1395.6,343.6 1365.45,333.67 1364.15,339.33" fill="#000" stroke="none" stroke-linejoin="miter" />
<line x1="1395.77" y1="338.07" x2="1394.23" y2="338.53" stroke="#000" stroke-width="1.9" stroke-linecap="butt" />
<line x1="1394.72" y1="330.71" x2="1391.08" y2="331.79" stroke="#000" stroke-width="1.9" stroke-linecap="butt" />
<line x1="1393.68" y1="323.34" x2="1387.92" y2="325.06" stroke="#000" stroke-width="1.9" stroke-linecap="butt" />
<line x1="1366" y1="333.9" x2="1379.5" y2="321.9" stroke="#000" stroke-width="1.6" stroke-linecap="butt" />
<text x="1387.5" y="320.2" font-size="17.9" fill="#fa7c4a" text-anchor="middle" >B</text>
<line x1="1383.5" y1="303.3" x2="1378.2" y2="295.3" stroke="#000" stroke-width="1.6" stroke-linecap="butt" />
<text x="1364.8" y="292.2" font-size="17.9" fill="#000" text-anchor="middle" ><tspan font-size="12" baseline-shift="8" font-style="italic">t</tspan>Bu</text>
<text x="1346.4" y="317.4" font-size="17.9" fill="#000" text-anchor="end" >Me<tspan font-size="12.5" baseline-shift="-4">3</tspan>Si</text>
<line x1="1350.2" y1="317.9" x2="1364.8" y2="336.5" stroke="#000" stroke-width="1.6" stroke-linecap="butt" />
<text x="1341.1" y="356.5" font-size="17.9" fill="#000" text-anchor="end" >Me<tspan font-size="12.5" baseline-shift="-4">3</tspan>Si</text>
<line x1="1344.9" y1="347.2" x2="1364.8" y2="336.5" stroke="#000" stroke-width="1.6" stroke-linecap="butt" />
<text x="1389.2" y="432.4" font-size="17.9" fill="#000" text-anchor="middle" >2-Boretene</text>
<text x="1389" y="453.1" font-size="17.9" fill="#000" text-anchor="middle" >air-sensitive</text>
<text x="18" y="492.6" font-size="30.5" fill="#000" text-anchor="start" font-weight="bold" stroke="#000" stroke-width="1.1">c</text>
<polygon points="74.45,599.76 96.88,622.59 88.33,653.42 57.35,661.44 34.92,638.61 43.47,607.78" fill="none" stroke="#7f7f7f" stroke-width="1.6" stroke-linejoin="miter" />
<line x1="91.29" y1="624.77" x2="84.67" y2="648.67" stroke="#7f7f7f" stroke-width="1.6" stroke-linecap="butt" />
<line x1="58.25" y1="655.5" x2="40.87" y2="637.82" stroke="#7f7f7f" stroke-width="1.6" stroke-linecap="butt" />
<line x1="48.16" y1="611.52" x2="72.17" y2="605.31" stroke="#7f7f7f" stroke-width="1.6" stroke-linecap="butt" />
<polygon points="179.48,605.69 207.16,619.86 208.74,650.92 182.62,667.81 154.94,653.64 153.36,622.58" fill="none" stroke="#7f7f7f" stroke-width="1.6" stroke-linejoin="miter" />
<line x1="180.49" y1="611.6" x2="201.77" y2="622.49" stroke="#7f7f7f" stroke-width="1.6" stroke-linecap="butt" />
<line x1="203.11" y1="648.84" x2="183.04" y2="661.82" stroke="#7f7f7f" stroke-width="1.6" stroke-linecap="butt" />
<line x1="159.55" y1="649.8" x2="158.34" y2="625.94" stroke="#7f7f7f" stroke-width="1.6" stroke-linecap="butt" />
<text x="88.2" y="579.7" font-size="17.9" fill="#7f7f7f" text-anchor="middle" >B</text>
<text x="66" y="554.5" font-size="17.9" fill="#7f7f7f" text-anchor="middle" >H</text>
<text x="125.3" y="547" font-size="17.9" fill="#7f7f7f" text-anchor="middle" >L</text>
<line x1="74.4" y1="555.8" x2="81.2" y2="563.4" stroke="#7f7f7f" stroke-width="1.6" stroke-linecap="butt" />
<line x1="117.2" y1="547" x2="107.18" y2="555.73" stroke="#7f7f7f" stroke-width="1.8" stroke-linecap="round" />
<polygon points="97,564.6 105.8,551.1 107.56,555.4 111.58,557.74" fill="#7f7f7f" stroke="none" stroke-linejoin="miter" />
<line x1="82.7" y1="583.5" x2="74.45" y2="599.76" stroke="#7f7f7f" stroke-width="1.6" stroke-linecap="butt" />
<line x1="98.3" y1="573.4" x2="120.5" y2="576.5" stroke="#7f7f7f" stroke-width="1.6" stroke-linecap="butt" />
<line x1="120.5" y1="576.5" x2="124.8" y2="608.2" stroke="#7f7f7f" stroke-width="1.6" stroke-linecap="butt" />
<line x1="124.8" y1="608.2" x2="96.88" y2="622.59" stroke="#7f7f7f" stroke-width="1.6" stroke-linecap="butt" />
<line x1="124.8" y1="608.2" x2="153.36" y2="622.58" stroke="#7f7f7f" stroke-width="1.6" stroke-linecap="butt" />
<text x="66.8" y="637.7" font-size="17.9" fill="#7f7f7f" text-anchor="middle" >Ar</text>
<text x="181.5" y="644" font-size="17.9" fill="#7f7f7f" text-anchor="middle" >Ar</text>
<text x="108.8" y="697" font-size="17.9" fill="#7f7f7f" text-anchor="middle" >Not observed</text>
<line x1="243.6" y1="608.2" x2="293.7" y2="608.2" stroke="#7f7f7f" stroke-width="1.7" stroke-linecap="butt" stroke-dasharray="5.6 4.2"/>
<polygon points="228.1,608.2 245.4,603.7 243.4,608.2 245.4,612.7" fill="#7f7f7f" stroke="none" stroke-linejoin="miter" />
<polygon points="330.2,605.2 357.6,620.7 357.6,652.7 330.2,668.7 302.4,652.7 302.4,620.7" fill="none" stroke="#7f7f7f" stroke-width="1.6" stroke-linejoin="miter" />
<line x1="307.88" y1="623.14" x2="329.39" y2="611.15" stroke="#7f7f7f" stroke-width="1.6" stroke-linecap="butt" />
<line x1="352.8" y1="624.3" x2="352.8" y2="649.1" stroke="#7f7f7f" stroke-width="1.6" stroke-linecap="butt" />
<line x1="329.47" y1="662.74" x2="307.91" y2="650.34" stroke="#7f7f7f" stroke-width="1.6" stroke-linecap="butt" />
<polygon points="439.8,605.2 467.6,620.7 467.6,652.7 439.8,668.7 412.2,652.7 412.2,620.7" fill="none" stroke="#7f7f7f" stroke-width="1.6" stroke-linejoin="miter" />
<line x1="440.61" y1="611.15" x2="462.12" y2="623.14" stroke="#7f7f7f" stroke-width="1.6" stroke-linecap="butt" />
<line x1="462.09" y1="650.34" x2="440.53" y2="662.74" stroke="#7f7f7f" stroke-width="1.6" stroke-linecap="butt" />
<line x1="417" y1="649.1" x2="417" y2="624.3" stroke="#7f7f7f" stroke-width="1.6" stroke-linecap="butt" />
<line x1="330.2" y1="584.5" x2="330.2" y2="605.2" stroke="#7f7f7f" stroke-width="1.6" stroke-linecap="butt" />
<path d="M328.8,572.3 C334.24,576.28 352.35,567.44 345.57,561.41 C342.82,552.76 327.38,565.71 328.8,572.3Z" fill="#ffffff" stroke="#a9a9a9" stroke-width="1.2"/>
<path d="M328.8,572.3 C323.17,569.04 307.46,579.11 314.63,584.19 C318.39,592.13 331.03,578.42 328.8,572.3Z" fill="url(#gl)" stroke="#cfcfcf" stroke-width="0.9"/>
<text x="330.2" y="580.5" font-size="17.9" fill="#7f7f7f" text-anchor="middle" >B</text>
<circle cx="339.8" cy="564.3" r="1.1" fill="#555" />
<text x="290.9" y="562.3" font-size="17.9" fill="#7f7f7f" text-anchor="middle" >H</text>
<line x1="300.5" y1="559.8" x2="320.6" y2="568.4" stroke="#7f7f7f" stroke-width="1.6" stroke-linecap="butt" />
<text x="312.9" y="536.4" font-size="17.9" fill="#7f7f7f" text-anchor="middle" >L</text>
<line x1="316.8" y1="539.7" x2="320.88" y2="550.13" stroke="#7f7f7f" stroke-width="1.8" stroke-linecap="round" />
<polygon points="325.8,562.7 316.05,549.87 320.7,549.66 324.25,546.66" fill="#7f7f7f" stroke="none" stroke-linejoin="miter" />
<line x1="357.6" y1="620.7" x2="385" y2="606.8" stroke="#7f7f7f" stroke-width="1.6" stroke-linecap="butt" />
<line x1="385" y1="606.8" x2="412.2" y2="620.7" stroke="#7f7f7f" stroke-width="1.6" stroke-linecap="butt" />
<line x1="381.9" y1="573.2" x2="381.9" y2="605" stroke="#7f7f7f" stroke-width="1.6" stroke-linecap="butt" />
<line x1="388.2" y1="573.2" x2="388.2" y2="605" stroke="#7f7f7f" stroke-width="1.6" stroke-linecap="butt" />
<text x="331.1" y="644.7" font-size="17.9" fill="#7f7f7f" text-anchor="middle" >Ar</text>
<text x="441.3" y="644.7" font-size="17.9" fill="#7f7f7f" text-anchor="middle" >Ar</text>
<line x1="496.3" y1="609.7" x2="597.7" y2="609.7" stroke="#7f7f7f" stroke-width="1.7" stroke-linecap="butt" stroke-dasharray="5.6 4.2"/>
<polygon points="480.8,609.7 498.1,605.2 496.1,609.7 498.1,614.2" fill="#7f7f7f" stroke="none" stroke-linejoin="miter" />
<text x="546.3" y="602.6" font-size="17.9" fill="#7f7f7f" text-anchor="middle" >Path 1</text>
<text x="541.1" y="637.3" font-size="17.9" fill="#7f7f7f" text-anchor="middle" >Monoradical</text>
<text x="541" y="656.2" font-size="17.9" fill="#7f7f7f" text-anchor="middle" >pathway</text>
<polygon points="641.1,607 669.3,622.4 669.3,654.3 641.1,670.4 613.1,654.3 613.1,622.4" fill="none" stroke="#000" stroke-width="1.6" stroke-linejoin="miter" />
<line x1="618.57" y1="624.87" x2="640.26" y2="612.94" stroke="#000" stroke-width="1.6" stroke-linecap="butt" />
<line x1="664.5" y1="626" x2="664.5" y2="650.7" stroke="#000" stroke-width="1.6" stroke-linecap="butt" />
<line x1="640.37" y1="664.44" x2="618.61" y2="651.93" stroke="#000" stroke-width="1.6" stroke-linecap="butt" />
<polygon points="750.7,607 778.2,622.4 778.2,654.3 750.7,670.4 723.2,654.3 723.2,622.4" fill="none" stroke="#000" stroke-width="1.6" stroke-linejoin="miter" />
<line x1="751.5" y1="612.95" x2="772.71" y2="624.83" stroke="#000" stroke-width="1.6" stroke-linecap="butt" />
<line x1="772.67" y1="651.98" x2="751.38" y2="664.44" stroke="#000" stroke-width="1.6" stroke-linecap="butt" />
<line x1="728" y1="650.7" x2="728" y2="626" stroke="#000" stroke-width="1.6" stroke-linecap="butt" />
<text x="641.1" y="582.4" font-size="17.9" fill="#fa7c4a" text-anchor="middle" >B</text>
<line x1="641.1" y1="586.5" x2="641.1" y2="607" stroke="#000" stroke-width="1.6" stroke-linecap="butt" />
<text x="631.8" y="543.5" font-size="17.9" fill="#000" text-anchor="middle" >H</text>
<line x1="634" y1="547.5" x2="638.4" y2="564" stroke="#000" stroke-width="1.6" stroke-linecap="butt" />
<text x="602.1" y="565.5" font-size="17.9" fill="#000" text-anchor="middle" >H</text>
<line x1="612.7" y1="562.3" x2="631.8" y2="571.7" stroke="#000" stroke-width="1.6" stroke-linecap="butt" />
<text x="674.3" y="548.3" font-size="17.9" fill="#7f7f7f" text-anchor="middle" >L</text>
<line x1="667" y1="547.5" x2="657.27" y2="557.58" stroke="#7f7f7f" stroke-width="1.8" stroke-linecap="round" />
<polygon points="647.9,567.3 655.49,553.09 657.62,557.22 661.83,559.2" fill="#7f7f7f" stroke="none" stroke-linejoin="miter" />
<line x1="669.3" y1="622.4" x2="695.9" y2="607.6" stroke="#000" stroke-width="1.6" stroke-linecap="butt" />
<line x1="695.9" y1="607.6" x2="723.2" y2="622.4" stroke="#000" stroke-width="1.6" stroke-linecap="butt" />
<line x1="693" y1="575" x2="693" y2="606" stroke="#000" stroke-width="1.6" stroke-linecap="butt" />
<line x1="699" y1="575" x2="699" y2="606" stroke="#000" stroke-width="1.6" stroke-linecap="butt" />
<text x="641.7" y="646.3" font-size="17.9" fill="#000" text-anchor="middle" >Ar</text>
<text x="751.8" y="646.3" font-size="17.9" fill="#000" text-anchor="middle" >Ar</text>
<line x1="792.2" y1="608.7" x2="872.7" y2="608.7" stroke="#000" stroke-width="1.7" stroke-linecap="butt" />
<polygon points="887.7,608.7 870.2,613.4 872.2,608.7 870.2,604" fill="#000" stroke="none" stroke-linejoin="miter" />
<text x="842.5" y="600.6" font-size="17.9" fill="#000" text-anchor="middle" >Path 2</text>
<text x="840" y="636.6" font-size="17.9" fill="#000" text-anchor="middle" >Diradical</text>
<text x="839.6" y="656.4" font-size="17.9" fill="#000" text-anchor="middle" >pathway</text>
<polygon points="931.3,607 959.5,622.7 959.5,653.8 931.3,669.6 903.7,653.8 903.7,622.7" fill="none" stroke="#000" stroke-width="1.6" stroke-linejoin="miter" />
<line x1="909.2" y1="625.09" x2="930.54" y2="612.95" stroke="#000" stroke-width="1.6" stroke-linecap="butt" />
<line x1="954.7" y1="626.3" x2="954.7" y2="650.2" stroke="#000" stroke-width="1.6" stroke-linecap="butt" />
<line x1="930.56" y1="663.65" x2="909.21" y2="651.42" stroke="#000" stroke-width="1.6" stroke-linecap="butt" />
<polygon points="1041.1,607 1068.5,622.7 1068.5,653.8 1041.1,669.6 1013.2,653.8 1013.2,622.7" fill="none" stroke="#000" stroke-width="1.6" stroke-linejoin="miter" />
<line x1="1041.84" y1="612.95" x2="1062.99" y2="625.07" stroke="#000" stroke-width="1.6" stroke-linecap="butt" />
<line x1="1062.98" y1="651.44" x2="1041.82" y2="663.64" stroke="#000" stroke-width="1.6" stroke-linecap="butt" />
<line x1="1018" y1="650.2" x2="1018" y2="626.3" stroke="#000" stroke-width="1.6" stroke-linecap="butt" />
<text x="931.3" y="581.6" font-size="17.9" fill="#fa7c4a" text-anchor="middle" >B</text>
<line x1="931.3" y1="585.5" x2="931.3" y2="607" stroke="#000" stroke-width="1.6" stroke-linecap="butt" />
<text x="925.8" y="541.5" font-size="17.9" fill="#000" text-anchor="middle" >H</text>
<line x1="928" y1="545.5" x2="932.4" y2="563" stroke="#000" stroke-width="1.6" stroke-linecap="butt" />
<text x="897.1" y="563" font-size="17.9" fill="#000" text-anchor="middle" >H</text>
<line x1="907.7" y1="560.5" x2="922" y2="569.4" stroke="#000" stroke-width="1.6" stroke-linecap="butt" />
<text x="963.8" y="544" font-size="17.9" fill="#7f7f7f" text-anchor="middle" >L</text>
<line x1="956.3" y1="545.6" x2="946.12" y2="557.38" stroke="#7f7f7f" stroke-width="1.8" stroke-linecap="round" />
<polygon points="937.3,567.6 944.1,552.99 946.45,557 950.76,558.75" fill="#7f7f7f" stroke="none" stroke-linejoin="miter" />
<line x1="959.5" y1="622.7" x2="985.8" y2="607" stroke="#000" stroke-width="1.6" stroke-linecap="butt" />
<line x1="985.8" y1="607" x2="1013.2" y2="622.7" stroke="#000" stroke-width="1.6" stroke-linecap="butt" />
<line x1="985.8" y1="576" x2="985.8" y2="607" stroke="#000" stroke-width="1.6" stroke-linecap="butt" />
<path d="M986.1,574.7 C988.15,568.76 976.18,556.48 972.7,564.23 C966.02,569.48 980.84,578.12 986.1,574.7Z" fill="#fff" stroke="#a9c9d9" stroke-width="1.1"/>
<path d="M986.1,574.7 C983.89,580.6 995.81,593.62 999.51,585.95 C1006.42,580.98 991.53,571.5 986.1,574.7Z" fill="url(#bl)" stroke="#a9c9d9" stroke-width="1.1"/>
<path d="M985.6,606.3 C988.15,600.6 977.8,588.18 973.71,595.59 C966.76,600.44 980.2,609.43 985.6,606.3Z" fill="#fff" stroke="#a9c9d9" stroke-width="1.1"/>
<path d="M985.6,606.3 C982.21,611.61 991.17,626.82 996.37,620.09 C1004.17,616.67 991.57,604.3 985.6,606.3Z" fill="url(#bl)" stroke="#a9c9d9" stroke-width="1.1"/>
<circle cx="976.8" cy="566.6" r="1.3" fill="#000" />
<circle cx="976.6" cy="597.3" r="1.3" fill="#000" />
<text x="931.7" y="646" font-size="17.9" fill="#000" text-anchor="middle" >Ar</text>
<text x="1041.5" y="646" font-size="17.9" fill="#000" text-anchor="middle" >Ar</text>
<line x1="1071" y1="608" x2="1139.7" y2="608" stroke="#000" stroke-width="1.7" stroke-linecap="butt" />
<polygon points="1154.7,608 1137.2,612.7 1139.2,608 1137.2,603.3" fill="#000" stroke="none" stroke-linejoin="miter" />
<text x="1109.9" y="601.6" font-size="17.9" fill="#000" text-anchor="middle" >1,5-HAT</text>
<text x="1269.7" y="501.1" font-size="17.7" fill="#000" text-anchor="middle" ><tspan fill="#8b1c22">B</tspan>oron–<tspan fill="#8b1c22">c</tspan>arbon-centred <tspan fill="#8b1c22">dir</tspan>adical</text>
<rect x="1166.6" y="514.4" width="221.7" height="160.2" rx="9.5" fill="none" stroke="#000" stroke-width="1.4"/>
<text x="1355.6" y="536.5" font-size="17.9" fill="#8b1c22" text-anchor="middle" >BCDR</text>
<polygon points="1219.4,602.6 1247.5,618.5 1247.5,649.6 1219.4,665.1 1191.4,649.6 1191.4,618.5" fill="none" stroke="#000" stroke-width="1.6" stroke-linejoin="miter" />
<line x1="1196.9" y1="620.9" x2="1218.64" y2="608.55" stroke="#000" stroke-width="1.6" stroke-linecap="butt" />
<line x1="1242.7" y1="622.1" x2="1242.7" y2="646" stroke="#000" stroke-width="1.6" stroke-linecap="butt" />
<line x1="1218.58" y1="659.16" x2="1196.87" y2="647.14" stroke="#000" stroke-width="1.6" stroke-linecap="butt" />
<polygon points="1329.1,602.6 1356.1,618.5 1356.1,649.6 1329.1,665.1 1301.8,649.6 1301.8,617.9" fill="none" stroke="#000" stroke-width="1.6" stroke-linejoin="miter" />
<line x1="1329.77" y1="608.56" x2="1350.56" y2="620.81" stroke="#000" stroke-width="1.6" stroke-linecap="butt" />
<line x1="1350.59" y1="647.23" x2="1329.83" y2="659.14" stroke="#000" stroke-width="1.6" stroke-linecap="butt" />
<line x1="1306.6" y1="646" x2="1306.6" y2="621.5" stroke="#000" stroke-width="1.6" stroke-linecap="butt" />
<path d="M1219.4,566 C1225.34,564.2 1227.65,549.2 1219.4,551 C1211.15,549.2 1213.46,564.2 1219.4,566Z" fill="url(#pk1)" stroke="#e9b7b0" stroke-width="1.3"/>
<path d="M1219.4,577 C1213.46,578.62 1211.15,592.12 1219.4,590.5 C1227.65,592.12 1225.34,578.62 1219.4,577Z" fill="url(#pk2)" stroke="#e9b7b0" stroke-width="1.3"/>
<circle cx="1219.3" cy="557.9" r="1.3" fill="#000" />
<line x1="1219.4" y1="582" x2="1219.4" y2="602.6" stroke="#000" stroke-width="1.6" stroke-linecap="butt" />
<text x="1219.4" y="578.3" font-size="17.9" fill="#fa7c4a" text-anchor="middle" >B</text>
<text x="1185.4" y="556.8" font-size="17.9" fill="#000" text-anchor="middle" >H</text>
<line x1="1195" y1="556.5" x2="1210.5" y2="565.3" stroke="#000" stroke-width="1.6" stroke-linecap="butt" />
<text x="1253" y="551.7" font-size="17.9" fill="#7f7f7f" text-anchor="middle" >L</text>
<line x1="1244.2" y1="550.9" x2="1238.14" y2="555.76" stroke="#7f7f7f" stroke-width="1.8" stroke-linecap="round" />
<polygon points="1227.6,564.2 1236.95,551.07 1238.53,555.45 1242.45,557.94" fill="#7f7f7f" stroke="none" stroke-linejoin="miter" />
<text x="1195.4" y="579.4" font-size="17.9" fill="#000" text-anchor="middle" >1</text>
<text x="1204.3" y="603.8" font-size="17.9" fill="#000" text-anchor="middle" >2</text>
<text x="1256.4" y="634.8" font-size="17.9" fill="#000" text-anchor="middle" >3</text>
<text x="1273" y="623.3" font-size="17.9" fill="#000" text-anchor="middle" >4</text>
<text x="1284.1" y="583.8" font-size="17.9" fill="#000" text-anchor="middle" >5</text>
<text x="1290.7" y="634.8" font-size="17.9" fill="#000" text-anchor="middle" >5'</text>
<text x="1290.7" y="655.9" font-size="17.9" fill="#000" text-anchor="middle" >6'</text>
<line x1="1274.1" y1="570.9" x2="1274.1" y2="602" stroke="#000" stroke-width="1.6" stroke-linecap="butt" />
<line x1="1274.1" y1="570.9" x2="1287.4" y2="556.5" stroke="#000" stroke-width="1.6" stroke-linecap="butt" />
<text x="1297.4" y="555" font-size="17.9" fill="#000" text-anchor="middle" >H</text>
<line x1="1247.5" y1="618.5" x2="1261.5" y2="610.3" stroke="#000" stroke-width="1.6" stroke-linecap="butt" />
<line x1="1285.2" y1="607.5" x2="1301.8" y2="617.4" stroke="#000" stroke-width="1.6" stroke-linecap="butt" />
<path d="M1274.1,602 C1272,595.88 1254.5,593.5 1256.6,602 C1254.5,610.5 1272,608.12 1274.1,602Z" fill="#fff" stroke="#bcd6ea" stroke-width="1.1"/>
<path d="M1274.1,602 C1276.44,608.12 1295.94,610.5 1293.6,602 C1295.94,593.5 1276.44,595.88 1274.1,602Z" fill="url(#bl)" stroke="#bcd6ea" stroke-width="1.1"/>
<circle cx="1263.5" cy="603" r="1.3" fill="#000" />
<line x1="1306.2" y1="623.5" x2="1306.2" y2="645" stroke="#000" stroke-width="1.6" stroke-linecap="butt" />
<circle cx="1301.8" cy="617.9" r="2.9" fill="#fff" stroke="#1e2d7d" stroke-width="1.3"/>
<circle cx="1301.8" cy="649.6" r="2.9" fill="#fff" stroke="#8b1b1b" stroke-width="1.3"/>
<text x="1220" y="641.8" font-size="17.9" fill="#000" text-anchor="middle" >Ar</text>
<text x="1330.2" y="641.8" font-size="17.9" fill="#000" text-anchor="middle" >Ar</text>
<circle cx="1242.4" cy="689.8" r="6" fill="#000" />
<circle cx="1279" cy="689.8" r="6" fill="#000" />
<circle cx="1314.4" cy="689.8" r="6" fill="#000" />
<polyline points="1242.6,689.8 1242.6,710.7 582.7,710.7 582.7,745" fill="none" stroke="#000" stroke-width="1.6" stroke-linejoin="miter"/>
<polygon points="582.7,759.6 578,742.6 582.7,745.6 587.4,742.6" fill="#000" stroke="none" stroke-linejoin="miter" />
<polyline points="1279.2,689.8 1279.6,725.0 942.2,725.0 942.2,746" fill="none" stroke="#000" stroke-width="1.6" stroke-linejoin="miter"/>
<polygon points="942.2,760.7 937.5,743.7 942.2,746.7 946.9,743.7" fill="#000" stroke="none" stroke-linejoin="miter" />
<line x1="1314.4" y1="689.8" x2="1314.4" y2="745" stroke="#000" stroke-width="1.6" stroke-linecap="butt" />
<polygon points="1314.4,759 1309.7,742 1314.4,745 1319.1,742" fill="#000" stroke="none" stroke-linejoin="miter" />
<text x="592.2" y="749" font-size="17.9" fill="#000" text-anchor="start" >1,4</text>
<text x="955.3" y="748.7" font-size="17.9" fill="#000" text-anchor="start" >1,5′</text>
<text x="1328.5" y="748.6" font-size="17.9" fill="#000" text-anchor="start" >1,6′</text>
<polygon points="239.1,818.9 239.8,853.2 265.7,868.6 248.9,896 221.6,884.8 189.3,893.2 205.5,868.6 220.8,862 221.2,842.5 226.5,835" fill="#cfe6cf" stroke="none" stroke-linejoin="miter" />
<polygon points="205.5,868.6 172.5,864.4 148,872.8 131.9,896 160.6,905.1 189.3,893.2" fill="none" stroke="#000" stroke-width="1.6" stroke-linejoin="miter" />
<line x1="170.65" y1="870.11" x2="152.96" y2="876.17" stroke="#000" stroke-width="1.6" stroke-linecap="butt" />
<line x1="136.78" y1="892.51" x2="158.62" y2="899.44" stroke="#000" stroke-width="1.6" stroke-linecap="butt" />
<line x1="187.27" y1="887.55" x2="199.51" y2="868.97" stroke="#000" stroke-width="1.6" stroke-linecap="butt" />
<polygon points="265.7,868.6 297.2,868.6 316.8,886.2 300,911.4 272,911.4 248.9,896" fill="none" stroke="#000" stroke-width="1.6" stroke-linejoin="miter" />
<line x1="269.3" y1="873.4" x2="293.6" y2="873.4" stroke="#000" stroke-width="1.6" stroke-linecap="butt" />
<line x1="310.81" y1="886.53" x2="298" y2="905.74" stroke="#000" stroke-width="1.6" stroke-linecap="butt" />
<line x1="271.67" y1="905.41" x2="254.56" y2="894" stroke="#000" stroke-width="1.6" stroke-linecap="butt" />
<line x1="239.1" y1="818.9" x2="244.7" y2="800" stroke="#000" stroke-width="1.6" stroke-linecap="butt" />
<line x1="239.1" y1="818.9" x2="239.8" y2="853.2" stroke="#000" stroke-width="1.6" stroke-linecap="butt" />
<text x="250.9" y="795.2" font-size="17.9" fill="#000" text-anchor="middle" >Ar</text>
<line x1="239.1" y1="818.9" x2="227.9" y2="834.3" stroke="#000" stroke-width="1.6" stroke-linecap="butt" />
<text x="221.6" y="849.3" font-size="17.9" fill="#000" text-anchor="middle" >O</text>
<line x1="222" y1="852.5" x2="222" y2="874.3" stroke="#000" stroke-width="1.6" stroke-linecap="butt" />
<line x1="239.8" y1="853.2" x2="261.5" y2="831.5" stroke="#000" stroke-width="1.6" stroke-linecap="butt" />
<line x1="239.8" y1="853.2" x2="226.5" y2="860.2" stroke="#000" stroke-width="1.6" stroke-linecap="butt" />
<line x1="216.7" y1="863.7" x2="205.5" y2="868.6" stroke="#000" stroke-width="1.6" stroke-linecap="butt" />
<text x="221.6" y="889.8" font-size="17.9" fill="#fa7c4a" text-anchor="middle" >B</text>
<line x1="211.1" y1="886.9" x2="189.3" y2="893.2" stroke="#000" stroke-width="1.6" stroke-linecap="butt" />
<line x1="230.7" y1="888.3" x2="248.9" y2="896" stroke="#000" stroke-width="1.6" stroke-linecap="butt" />
<line x1="239.8" y1="853.2" x2="265.7" y2="868.6" stroke="#000" stroke-width="1.6" stroke-linecap="butt" />
<line x1="265.7" y1="868.6" x2="248.9" y2="896" stroke="#000" stroke-width="1.6" stroke-linecap="butt" />
<circle cx="265.7" cy="868.6" r="3.3" fill="#b9c1de" stroke="#1f2d80" stroke-width="1.6"/>
<circle cx="248.9" cy="896" r="3.3" fill="#dcbcc0" stroke="#8b1b1b" stroke-width="1.6"/>
<text x="228.4" y="934.6" font-size="17.9" fill="#7f7f7f" text-anchor="middle" >L</text>
<line x1="226.9" y1="918.9" x2="225.21" y2="907.06" stroke="#7f7f7f" stroke-width="1.8" stroke-linecap="round" />
<polygon points="223.3,893.7 229.85,908.42 225.28,907.56 221.14,909.67" fill="#7f7f7f" stroke="none" stroke-linejoin="miter" />
<text x="218.2" y="967.4" font-size="17.9" fill="#000" text-anchor="middle" >Oxaborabicycle</text>
<line x1="464.6" y1="847.6" x2="366.7" y2="847.6" stroke="#000" stroke-width="1.7" stroke-linecap="butt" />
<polygon points="351.7,847.6 369.2,842.9 367.2,847.6 369.2,852.3" fill="#000" stroke="none" stroke-linejoin="miter" />
<text x="408.9" y="837.7" font-size="17.9" fill="#000" text-anchor="middle" >ArCHO</text>
<polygon points="564.7,825.4 596,825.4 596,856.3 564.7,856.3" fill="#f9e1be" stroke="none" stroke-linejoin="miter" />
<polygon points="536.1,809.2 564.7,825.4 564.7,856.3 536.1,872.6 509.2,856.3 509.2,825.4" fill="none" stroke="#000" stroke-width="1.6" stroke-linejoin="miter" />
<line x1="536.87" y1="815.15" x2="559.2" y2="827.8" stroke="#000" stroke-width="1.6" stroke-linecap="butt" />
<line x1="559.2" y1="853.91" x2="536.85" y2="866.65" stroke="#000" stroke-width="1.6" stroke-linecap="butt" />
<line x1="514" y1="852.7" x2="514" y2="829" stroke="#000" stroke-width="1.6" stroke-linecap="butt" />
<line x1="564.7" y1="825.4" x2="588" y2="825.4" stroke="#000" stroke-width="1.6" stroke-linecap="butt" />
<line x1="596" y1="835.5" x2="596" y2="856.3" stroke="#000" stroke-width="1.6" stroke-linecap="butt" />
<line x1="596" y1="856.3" x2="564.7" y2="856.3" stroke="#000" stroke-width="1.6" stroke-linecap="butt" />
<text x="596" y="832.3" font-size="17.9" fill="#fa7c4a" text-anchor="middle" >B</text>
<text x="585.8" y="791" font-size="17.9" fill="#7f7f7f" text-anchor="middle" >L</text>
<line x1="587.9" y1="795" x2="589.64" y2="801.38" stroke="#7f7f7f" stroke-width="1.8" stroke-linecap="round" />
<polygon points="593.2,814.4 584.87,800.61 589.51,800.89 593.36,798.29" fill="#7f7f7f" stroke="none" stroke-linejoin="miter" />
<text x="626" y="814.4" font-size="17.9" fill="#000" text-anchor="middle" >H</text>
<line x1="604.4" y1="819.7" x2="616.1" y2="813.4" stroke="#000" stroke-width="1.6" stroke-linecap="butt" />
<line x1="596" y1="856.3" x2="579.9" y2="884.3" stroke="#000" stroke-width="1.6" stroke-linecap="butt" />
<line x1="596" y1="856.3" x2="617.6" y2="879" stroke="#000" stroke-width="1.6" stroke-linecap="butt" />
<polygon points="617.6,879 649.3,870.5 671.5,893.2 662.4,923.4 632,931.9 609.5,909.7" fill="none" stroke="#000" stroke-width="1.6" stroke-linejoin="miter" />
<line x1="648.39" y1="876.43" x2="665.55" y2="893.98" stroke="#000" stroke-width="1.6" stroke-linecap="butt" />
<line x1="657.64" y1="919.75" x2="634.17" y2="926.31" stroke="#000" stroke-width="1.6" stroke-linecap="butt" />
<line x1="615.06" y1="907.44" x2="621.32" y2="883.71" stroke="#000" stroke-width="1.6" stroke-linecap="butt" />
<text x="537.1" y="848.3" font-size="17.9" fill="#000" text-anchor="middle" >Ar</text>
<text x="640.8" y="908.6" font-size="17.9" fill="#000" text-anchor="middle" >Ar</text>
<text x="569.4" y="967.9" font-size="17.9" fill="#000" text-anchor="middle" >Dihydrobenzoborete</text>
<polygon points="898.7,843.2 931,835.2 947.2,864.4 928.7,884.3 898.7,875.3" fill="#e6e6ff" stroke="none" stroke-linejoin="miter" />
<polygon points="928.7,884.3 947.2,864.4 951.4,892.6" fill="#f4b4bc" stroke="none" stroke-linejoin="miter" />
<polygon points="871,827.6 898.7,843.2 898.7,875.3 871,890.8 843.3,875.3 843.3,843.2" fill="none" stroke="#000" stroke-width="1.6" stroke-linejoin="miter" />
<line x1="871.78" y1="833.55" x2="893.21" y2="845.62" stroke="#000" stroke-width="1.6" stroke-linecap="butt" />
<line x1="893.21" y1="872.87" x2="871.8" y2="884.85" stroke="#000" stroke-width="1.6" stroke-linecap="butt" />
<line x1="848.1" y1="871.7" x2="848.1" y2="846.8" stroke="#000" stroke-width="1.6" stroke-linecap="butt" />
<line x1="898.7" y1="843.2" x2="922.5" y2="836.8" stroke="#000" stroke-width="1.6" stroke-linecap="butt" />
<line x1="936.4" y1="845.4" x2="947.2" y2="864.4" stroke="#000" stroke-width="1.6" stroke-linecap="butt" />
<line x1="898.7" y1="875.3" x2="928.7" y2="884.3" stroke="#000" stroke-width="1.6" stroke-linecap="butt" />
<line x1="928.7" y1="884.3" x2="947.2" y2="864.4" stroke="#000" stroke-width="1.6" stroke-linecap="butt" />
<text x="931" y="840.6" font-size="17.9" fill="#fa7c4a" text-anchor="middle" >B</text>
<polygon points="947.2,864.4 962,851 992.2,854.1 1001.3,877.5 980.1,896.4 951.4,892.6" fill="none" stroke="#000" stroke-width="1.6" stroke-linejoin="miter" />
<line x1="995.42" y1="876.31" x2="979.59" y2="890.42" stroke="#000" stroke-width="1.6" stroke-linecap="butt" />
<polygon points="962,851 952.9,828.4 974.1,808 1004.3,812.5 1013.4,835.2 992.2,854.1" fill="none" stroke="#000" stroke-width="1.6" stroke-linejoin="miter" />
<line x1="958.82" y1="829.36" x2="974.83" y2="813.95" stroke="#000" stroke-width="1.6" stroke-linecap="butt" />
<line x1="1001.18" y1="817.63" x2="1007.61" y2="833.64" stroke="#000" stroke-width="1.6" stroke-linecap="butt" />
<line x1="989.11" y1="848.96" x2="966.07" y2="846.59" stroke="#000" stroke-width="1.6" stroke-linecap="butt" />
<line x1="993.7" y1="797.4" x2="984.7" y2="828.4" stroke="#fff" stroke-width="4.5" stroke-linecap="butt" />
<line x1="993.7" y1="797.4" x2="984.7" y2="828.4" stroke="#000" stroke-width="1.6" stroke-linecap="butt" />
<text x="998.3" y="792.8" font-size="17.9" fill="#000" text-anchor="middle" >R</text>
<polygon points="947.2,864.4 948.93,892.97 953.87,892.23" fill="#000" stroke="none" stroke-linejoin="miter" />
<polygon points="928.7,884.3 950.4,895.32 952.4,889.88" fill="#000" stroke="none" stroke-linejoin="miter" />
<line x1="951.6" y1="893" x2="957.6" y2="914" stroke="#000" stroke-width="3.8" stroke-linecap="butt" />
<line x1="926.85" y1="886.13" x2="928.15" y2="886.87" stroke="#000" stroke-width="1.8" stroke-linecap="butt" />
<line x1="923.43" y1="891.02" x2="925.69" y2="892.3" stroke="#000" stroke-width="1.8" stroke-linecap="butt" />
<line x1="920.01" y1="895.9" x2="923.23" y2="897.74" stroke="#000" stroke-width="1.8" stroke-linecap="butt" />
<line x1="916.59" y1="900.79" x2="920.77" y2="903.17" stroke="#000" stroke-width="1.8" stroke-linecap="butt" />
<line x1="913.18" y1="905.68" x2="918.3" y2="908.6" stroke="#000" stroke-width="1.8" stroke-linecap="butt" />
<line x1="909.76" y1="910.57" x2="915.84" y2="914.03" stroke="#000" stroke-width="1.8" stroke-linecap="butt" />
<text x="972.2" y="929.7" font-size="17.9" fill="#000" text-anchor="middle" >OMe</text>
<circle cx="947.2" cy="864.4" r="3.2" fill="#b9c1de" stroke="#1f2d80" stroke-width="1.6"/>
<circle cx="951.4" cy="892.6" r="3.5" fill="#dcbcc0" stroke="#8b1b1b" stroke-width="1.6"/>
<text x="895.4" y="807.7" font-size="17.9" fill="#7f7f7f" text-anchor="middle" >L</text>
<polygon points="923.6,827 905.61,807.03 900.79,812.77" fill="#7f7f7f" stroke="none" stroke-linejoin="miter" />
<text x="943.8" y="803.4" font-size="17.9" fill="#000" text-anchor="middle" >H</text>
<line x1="932.98" y1="826.81" x2="931.62" y2="826.19" stroke="#000" stroke-width="1.7" stroke-linecap="butt" />
<line x1="935.16" y1="823.26" x2="932.88" y2="822.22" stroke="#000" stroke-width="1.7" stroke-linecap="butt" />
<line x1="937.33" y1="819.71" x2="934.15" y2="818.25" stroke="#000" stroke-width="1.7" stroke-linecap="butt" />
<line x1="939.51" y1="816.16" x2="935.41" y2="814.28" stroke="#000" stroke-width="1.7" stroke-linecap="butt" />
<line x1="941.68" y1="812.6" x2="936.68" y2="810.32" stroke="#000" stroke-width="1.7" stroke-linecap="butt" />
<line x1="943.86" y1="809.05" x2="937.94" y2="806.35" stroke="#000" stroke-width="1.7" stroke-linecap="butt" />
<text x="871" y="866.1" font-size="17.9" fill="#000" text-anchor="middle" >Ar</text>
<text x="917.5" y="967.4" font-size="17.9" fill="#000" text-anchor="middle" >Dihydrocyclopropaborole</text>
<polygon points="1259.4,843 1286.9,827.2 1313.8,842.6 1313.8,874.4 1286.9,890.2 1259.4,874.8" fill="#f0f0e0" stroke="none" stroke-linejoin="miter" />
<polygon points="1231.9,826.7 1259.4,843 1259.4,874.8 1231.9,890.7 1203.7,874.8 1203.7,843" fill="none" stroke="#000" stroke-width="1.6" stroke-linejoin="miter" />
<line x1="1232.55" y1="832.66" x2="1253.86" y2="845.29" stroke="#000" stroke-width="1.6" stroke-linecap="butt" />
<line x1="1253.88" y1="872.45" x2="1232.61" y2="884.74" stroke="#000" stroke-width="1.6" stroke-linecap="butt" />
<line x1="1208.5" y1="871.2" x2="1208.5" y2="846.6" stroke="#000" stroke-width="1.6" stroke-linecap="butt" />
<polygon points="1313.8,842.6 1341.3,826.7 1368.4,843 1368.4,874.8 1341.3,890.7 1313.8,874.4" fill="none" stroke="#000" stroke-width="1.6" stroke-linejoin="miter" />
<line x1="1341.91" y1="832.67" x2="1362.84" y2="845.26" stroke="#000" stroke-width="1.6" stroke-linecap="butt" />
<line x1="1362.87" y1="872.48" x2="1341.98" y2="884.74" stroke="#000" stroke-width="1.6" stroke-linecap="butt" />
<line x1="1259.4" y1="843" x2="1277.4" y2="832.4" stroke="#000" stroke-width="1.6" stroke-linecap="butt" />
<line x1="1295.4" y1="831.4" x2="1313.8" y2="842.6" stroke="#000" stroke-width="1.6" stroke-linecap="butt" />
<line x1="1319.7" y1="848.3" x2="1319.7" y2="869.5" stroke="#000" stroke-width="1.6" stroke-linecap="butt" />
<line x1="1313.8" y1="874.4" x2="1286.9" y2="890.2" stroke="#000" stroke-width="1.6" stroke-linecap="butt" />
<line x1="1286.9" y1="890.2" x2="1259.4" y2="874.8" stroke="#000" stroke-width="1.6" stroke-linecap="butt" />
<text x="1286.9" y="833.5" font-size="17.9" fill="#fa7c4a" text-anchor="middle" >B</text>
<circle cx="1313.8" cy="842.6" r="3.3" fill="#dcbcc0" stroke="#8b1b1b" stroke-width="1.6"/>
<circle cx="1313.8" cy="874.4" r="3.3" fill="#b9c1de" stroke="#1f2d80" stroke-width="1.6"/>
<text x="1260.4" y="798.6" font-size="17.9" fill="#7f7f7f" text-anchor="middle" >L</text>
<line x1="1282.18" y1="819.22" x2="1281.02" y2="820.18" stroke="#7f7f7f" stroke-width="1.8" stroke-linecap="butt" />
<line x1="1279.68" y1="815.26" x2="1277.6" y2="816.98" stroke="#7f7f7f" stroke-width="1.8" stroke-linecap="butt" />
<line x1="1277.18" y1="811.3" x2="1274.18" y2="813.78" stroke="#7f7f7f" stroke-width="1.8" stroke-linecap="butt" />
<line x1="1274.69" y1="807.34" x2="1270.75" y2="810.58" stroke="#7f7f7f" stroke-width="1.8" stroke-linecap="butt" />
<line x1="1272.19" y1="803.37" x2="1267.33" y2="807.39" stroke="#7f7f7f" stroke-width="1.8" stroke-linecap="butt" />
<line x1="1269.69" y1="799.41" x2="1263.91" y2="804.19" stroke="#7f7f7f" stroke-width="1.8" stroke-linecap="butt" />
<text x="1314.4" y="801.8" font-size="17.9" fill="#000" text-anchor="middle" >H</text>
<polygon points="1292.2,819.7 1309.72,808.94 1304.28,803.06" fill="#000" stroke="none" stroke-linejoin="miter" />
<text x="1308.1" y="918.2" font-size="17.9" fill="#000" text-anchor="middle" >H</text>
<polygon points="1286.9,890.2 1298.93,907.29 1304.47,901.51" fill="#000" stroke="none" stroke-linejoin="miter" />
<line x1="1284.91" y1="891.54" x2="1286.09" y2="892.46" stroke="#000" stroke-width="1.8" stroke-linecap="butt" />
<line x1="1280.69" y1="895.99" x2="1282.83" y2="897.65" stroke="#000" stroke-width="1.8" stroke-linecap="butt" />
<line x1="1276.48" y1="900.44" x2="1279.56" y2="902.84" stroke="#000" stroke-width="1.8" stroke-linecap="butt" />
<line x1="1272.27" y1="904.9" x2="1276.29" y2="908.02" stroke="#000" stroke-width="1.8" stroke-linecap="butt" />
<line x1="1268.05" y1="909.35" x2="1273.03" y2="913.21" stroke="#000" stroke-width="1.8" stroke-linecap="butt" />
<line x1="1263.84" y1="913.8" x2="1269.76" y2="918.4" stroke="#000" stroke-width="1.8" stroke-linecap="butt" />
<text x="1232" y="866" font-size="17.9" fill="#000" text-anchor="middle" >Ar</text>
<text x="1342" y="866" font-size="17.9" fill="#000" text-anchor="middle" >Ar</text>
<text x="1280" y="967.9" font-size="17.9" fill="#000" text-anchor="middle" >Dihydroborinine</text>
</svg>
</body></html>
